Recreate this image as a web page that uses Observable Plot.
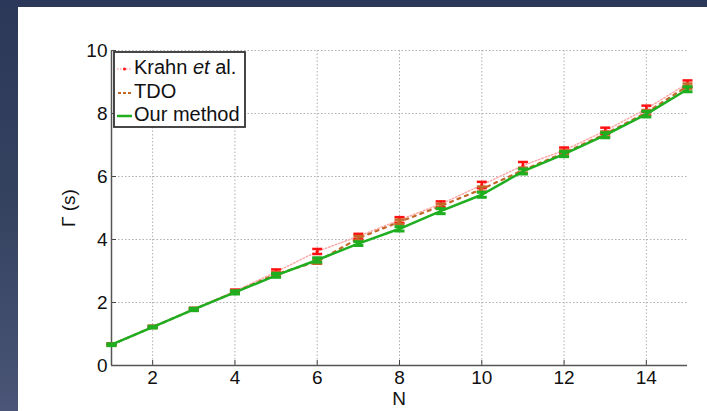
<!DOCTYPE html>
<html><head><meta charset="utf-8">
<script src="https://cdn.jsdelivr.net/npm/d3@7"></script>
<script src="https://cdn.jsdelivr.net/npm/@observablehq/plot@0.6"></script>
<style>
html,body{margin:0;padding:0;}
body{width:707px;height:411px;overflow:hidden;position:relative;
  background:linear-gradient(to bottom,#2c3859 0%,#35425f 50%,#4a5577 100%);
  font-family:"Liberation Sans",Arial,sans-serif;}
#panel{position:absolute;left:18px;top:7px;right:0;bottom:0;background:#fff;}
#chart{position:absolute;left:0;top:0;}
</style></head>
<body><div id="panel"></div><div id="chart"></div>
<script>
// ---- data ----
const N = [1,2,3,4,5,6,7,8,9,10,11,12,13,14,15];
const krahn    = [0.67,1.23,1.79,2.36,2.97,3.62,4.10,4.62,5.12,5.73,6.35,6.83,7.45,8.15,8.95];
const krahnErr = [0.03,0.03,0.04,0.05,0.08,0.08,0.08,0.09,0.09,0.10,0.11,0.09,0.10,0.10,0.10];
const tdo      = [0.66,1.22,1.78,2.33,2.90,3.30,4.04,4.56,5.06,5.60,6.20,6.75,7.35,8.03,8.87];
const tdoErr   = [0.03,0.03,0.04,0.05,0.06,0.07,0.07,0.07,0.07,0.08,0.08,0.08,0.08,0.08,0.08];
const ours     = [0.66,1.22,1.78,2.32,2.86,3.35,3.87,4.34,4.90,5.42,6.16,6.71,7.31,7.98,8.77];
const oursErr  = [0.03,0.03,0.04,0.05,0.06,0.07,0.06,0.07,0.08,0.08,0.08,0.08,0.08,0.09,0.08];
const xTicks = [2,4,6,8,10,12,14];
const yTicks = [0,2,4,6,8,10];
const seriesNames = ["Krahn et al.","TDO","Our method"];
const xLabel = "N";
const yLabel = "Γ (s)";

const colors = {krahnLine:"#ffa8a8", krahn:"#ff1010", tdo:"#c4682a", ours:"#1fae1f"};

const mk = (ys, es, name) => N.map((n,i)=>({n, y: ys[i], e: es[i], name}));
const dK = mk(krahn, krahnErr, seriesNames[0]);
const dT = mk(tdo, tdoErr, seriesNames[1]);
const dO = mk(ours, oursErr, seriesNames[2]);

const cap = {draw(ctx, size){ const w = Math.sqrt(size/Math.PI); ctx.moveTo(-w,0); ctx.lineTo(w,0);} };

function errbars(d, color, sw){
  return [
    Plot.ruleX(d, {x:"n", y1: v=>v.y-v.e, y2: v=>v.y+v.e, stroke: color, strokeWidth: sw}),
    Plot.dot(d, {x:"n", y: v=>v.y+v.e, symbol: cap, r: 5, stroke: color, strokeWidth: sw, fill:"none"}),
    Plot.dot(d, {x:"n", y: v=>v.y-v.e, symbol: cap, r: 5, stroke: color, strokeWidth: sw, fill:"none"})
  ];
}

const W = 707, H = 411;
const chart = Plot.plot({
  width: W, height: H,
  marginLeft: 111, marginRight: 20, marginTop: 50, marginBottom: 46,
  style: {background:"transparent", fontFamily:'"Liberation Sans", Arial, sans-serif', fontSize:"19px", color:"#111", overflow:"visible"},
  x: {domain:[1,15]},
  y: {domain:[0,10]},
  marks: [
    Plot.gridX(xTicks, {stroke:"#b0b0b0", strokeOpacity:1, strokeDasharray:"1.5,2"}),
    Plot.gridY(yTicks, {stroke:"#b0b0b0", strokeOpacity:1, strokeDasharray:"1.5,2"}),
    Plot.axisX(xTicks, {tickSize:-5, tickPadding:10, label:null, stroke:"#444", fontSize:19}),
    Plot.axisY(yTicks, {tickSize:-5, tickPadding:9, label:null, stroke:"#444", fontSize:19}),
    Plot.ruleY([0], {stroke:"#555", strokeWidth:1.5}),
    Plot.ruleX([1], {stroke:"#555", strokeWidth:1.5}),
    // Krahn et al.
    Plot.line(dK, {x:"n", y:"y", stroke: colors.krahnLine, strokeWidth:1.5, strokeDasharray:"1.5,2"}),
    ...errbars(dK, colors.krahn, 2.5),
    Plot.dot(dK, {x:"n", y:"y", r:1.5, fill: colors.krahn}),
    // TDO
    Plot.line(dT, {x:"n", y:"y", stroke: colors.tdo, strokeWidth:2.2, strokeDasharray:"3,5"}),
    ...errbars(dT, colors.tdo, 2.5),
    // Ours
    Plot.line(dO, {x:"n", y:"y", stroke: colors.ours, strokeWidth:2.5}),
    ...errbars(dO, colors.ours, 3)
  ]
});
document.getElementById("chart").appendChild(chart);

// axis titles and legend
const svg = d3.select(chart);
svg.append("text").attr("x", 399).attr("y", 400).attr("text-anchor","middle").attr("dominant-baseline","middle")
  .attr("font-size",19).attr("fill","#111").text(xLabel);
svg.append("text").attr("transform","translate(70,208) rotate(-90)").attr("text-anchor","middle").attr("dominant-baseline","middle")
  .attr("font-size",19).attr("fill","#111").text(yLabel);

const lg = svg.append("g").attr("transform","translate(114,52)");
lg.append("rect").attr("width",131).attr("height",75).attr("fill","#fff").attr("stroke","#333").attr("stroke-width",1.8);
const rowY = [17, 41, 64];
// Krahn
lg.append("line").attr("x1",3).attr("x2",18).attr("y1",rowY[0]).attr("y2",rowY[0]).attr("stroke",colors.krahnLine).attr("stroke-width",1.5).attr("stroke-dasharray","1.5,1.5");
lg.append("circle").attr("cx",10.5).attr("cy",rowY[0]).attr("r",1.5).attr("fill",colors.krahn);
// TDO
lg.append("line").attr("x1",4).attr("x2",18).attr("y1",rowY[1]).attr("y2",rowY[1]).attr("stroke",colors.tdo).attr("stroke-width",2.2).attr("stroke-dasharray","3,2");
// Ours
lg.append("line").attr("x1",3).attr("x2",18).attr("y1",rowY[2]).attr("y2",rowY[2]).attr("stroke",colors.ours).attr("stroke-width",2.5);
const txt = (y) => lg.append("text").attr("x",20).attr("y",y).attr("text-anchor","start")
  .attr("dominant-baseline","middle").attr("font-size",20).attr("fill","#111");
const t0 = txt(rowY[0]);
t0.append("tspan").text("Krahn ");
t0.append("tspan").attr("font-style","italic").text("et");
t0.append("tspan").text(" al.");
txt(rowY[1]).text(seriesNames[1]);
txt(rowY[2]).text(seriesNames[2]);
</script>
</body></html>
